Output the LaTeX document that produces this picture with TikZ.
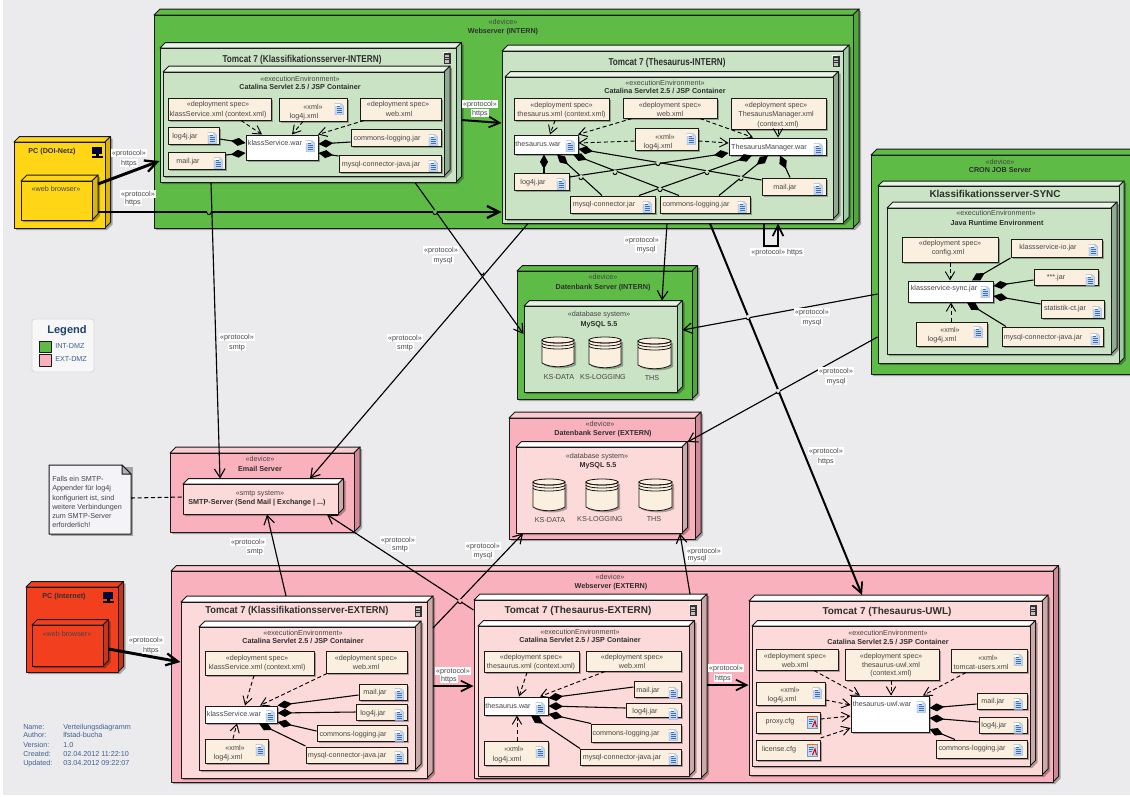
\documentclass[tikz,border=0pt]{standalone}
\usepackage{fontspec}
\usepackage{graphicx}
\setmainfont{Liberation Sans}
\usetikzlibrary{arrows.meta,calc,fit}
\newlength\pxu \setlength\pxu{0.75pt}
\definecolor{pageBg}{HTML}{EBEBED}
\definecolor{txtGrey}{HTML}{454545}
\definecolor{txtDark}{HTML}{2E2E2E}
\definecolor{gD-f}{HTML}{5EBB46}\definecolor{gD-t}{HTML}{5EBB46}\definecolor{gD-s}{HTML}{52A63E}
\definecolor{gT-f}{HTML}{C9E3C4}\definecolor{gT-t}{HTML}{E6F2E4}\definecolor{gT-s}{HTML}{9CCBA4}
\definecolor{gE-f}{HTML}{C9E3C4}\definecolor{gE-t}{HTML}{EAF5E8}\definecolor{gE-s}{HTML}{8FAA90}
\definecolor{pD-f}{HTML}{F9B2BD}\definecolor{pD-t}{HTML}{FBCBD2}\definecolor{pD-s}{HTML}{D08A96}
\definecolor{pT-f}{HTML}{FDDADA}\definecolor{pT-t}{HTML}{FFFFFF}\definecolor{pT-s}{HTML}{CBA9A9}
\definecolor{yD-f}{HTML}{FFD615}\definecolor{yD-t}{HTML}{FFD615}\definecolor{yD-s}{HTML}{D9B30E}
\definecolor{rD-f}{HTML}{F2401F}\definecolor{rD-t}{HTML}{F2401F}\definecolor{rD-s}{HTML}{C8351A}
\definecolor{artFill}{HTML}{FBF0E0}
\definecolor{noteFill}{HTML}{F4F4F8}
\definecolor{metaBlue}{HTML}{3F5F8F}
\definecolor{navy}{HTML}{1F3F70}
\definecolor{iconBlue}{HTML}{3E6FB8}
\definecolor{iconPale}{HTML}{C5D8F2}
\newcounter{tn}
% 3D box: name x1 y1 x2 y2 depth palette
\newcommand{\dbox}[7]{%
  \fill[black,opacity=.3] ({#2+2},{#3+2}) -- ({#2+#6+2},{#3-#6+2}) -- ({#4+#6+2},{#3-#6+2}) -- ({#4+#6+2},{#5-#6+2}) -- ({#4+2},{#5+2}) -- ({#2+2},{#5+2}) -- cycle;
  \draw[boxline,fill=#7-t] (#2,#3) -- ({#2+#6},{#3-#6}) -- ({#4+#6},{#3-#6}) -- (#4,#3) -- cycle;
  \draw[boxline,fill=#7-s] (#4,#3) -- ({#4+#6},{#3-#6}) -- ({#4+#6},{#5-#6}) -- (#4,#5) -- cycle;
  \node[boxline,draw,fill=#7-f,inner sep=0pt,fit={(#2,#3) (#4,#5)}] (#1) {};
  \coordinate (#1-tr) at ({#4+#6},{#3-#6});
}
% flat artefact box
\newcommand{\art}[6][artFill]{%
  \fill[black,opacity=.3] ({#3+2},{#4+2}) rectangle ({#5+2},{#6+2});
  \node[boxline,draw,fill=#1,inner sep=0pt,fit={(#3,#4) (#5,#6)}] (#2) {};
}
\newcommand{\txt}[4][]{\stepcounter{tn}\node[lb,#1] (t\arabic{tn}) at (#2,#3) {#4};}
\newcommand{\btxt}[4][]{\stepcounter{tn}\node[lb,text=txtDark,font=\fontsize{5.4}{6.5}\selectfont\bfseries,#1] (t\arabic{tn}) at (#2,#3) {#4};}
\newcommand{\clbl}[3]{\stepcounter{tn}\node[lb,fill=white,inner xsep=1.2pt,inner ysep=.6pt] (t\arabic{tn}) at (#1,#2) {#3};}
\newcommand{\ttl}[5][7.5]{\stepcounter{tn}\node[lb,text=txtDark,text height=7pt,text depth=1.6pt] (t\arabic{tn}) at (#2,#3) {\resizebox{#4\pxu}{\height}{\fontsize{#1}{9}\selectfont\bfseries #5}};}
% document icon
\newcommand{\docicon}[2]{%
  \fill[iconPale,draw=iconBlue!70,line width=.25pt] ({#1-4},{#2-5.5}) -- ({#1+2},{#2-5.5}) -- ({#1+4.5},{#2-3}) -- ({#1+4.5},{#2+5.5}) -- ({#1-4},{#2+5.5}) -- cycle;
  \fill[white] ({#1-4},{#2-5.5}) rectangle ({#1+1},{#2-3});
  \draw[iconBlue,line width=.7pt] ({#1-2.5},{#2-3}) -- ({#1+1},{#2-3}) ({#1-2.5},{#2-.8}) -- ({#1+3},{#2-.8}) ({#1-2.5},{#2+1.4}) -- ({#1+3},{#2+1.4}) ({#1-2.5},{#2+3.6}) -- ({#1+3},{#2+3.6});
}
\newcommand{\redicon}[2]{%
  \fill[iconPale,draw=iconBlue!70,line width=.25pt] ({#1-5},{#2-6}) rectangle ({#1+5},{#2+6});
  \fill[orange!80!red] ({#1-5},{#2-6.3}) rectangle ({#1+5},{#2-5.2});
  \draw[iconBlue,line width=.6pt] ({#1-3},{#2-3}) -- ({#1+2},{#2-3}) ({#1-3},{#2-.8}) -- ({#1+1},{#2-.8}) ({#1-3},{#2+1.4}) -- ({#1},{#2+1.4});
  \draw[red!85!black,line width=.8pt] ({#1+.5},{#2+5}) -- ({#1+3},{#2-1}) -- ({#1+4.5},{#2+5});
}
\newcommand{\tomcaticon}[2]{%
  \fill[white] ({#1-4.5},{#2-6.5}) rectangle ({#1+1},{#2-4});
  \fill[black!80] ({#1-3.5},{#2-5.5}) rectangle ({#1+3.5},{#2+5.5});
  \fill[black!25] ({#1-1.7},{#2-3.5}) rectangle ({#1+1.7},{#2+4.5});
  \draw[black!80,line width=.4pt] ({#1-1.7},{#2-1}) -- ({#1+1.7},{#2-1}) ({#1-1.7},{#2+1.5}) -- ({#1+1.7},{#2+1.5});
}
\newcommand{\pcicon}[2]{%
  \fill[black] ({#1-5},{#2-5}) rectangle ({#1+5},{#2+2});
  \fill[black!70!blue] ({#1-3.5},{#2-4}) rectangle ({#1+3.5},{#2+1});
  \fill[black] ({#1-1.5},{#2+2}) rectangle ({#1+1.5},{#2+3.5});
  \fill[black] ({#1-5.5},{#2+3.5}) rectangle ({#1+5.5},{#2+5.5});
}
% database cylinder
\newcommand{\cyl}[4]{%
  \begin{scope}[shift={(2,2)}]
  \fill[black,opacity=.3] (#1,{#2+3}) -- (#1,{#4-6}) .. controls ({#1+8},{#4-2}) and ({#3-8},{#4-1}) .. (#3,{#4-6}) -- (#3,{#2+3}) -- cycle;
  \end{scope}
  \draw[cylline,fill=artFill] (#1,{#2+3}) -- (#1,{#4-6}) .. controls ({#1+8},{#4-1}) and ({#3-8},{#4-1}) .. (#3,{#4-6}) -- (#3,{#2+3}) -- cycle;
  \draw[cylline,fill=artFill] ({(#1+#3)/2},{#2+3}) ellipse ({(#3-#1)/2} and 3);
  \draw[cylline] (#1,{#2+3}) arc (180:360:{(#3-#1)/2} and -3);
  \draw[cylline] (#1,{#2+6}) arc (180:360:{(#3-#1)/2} and -3);
  \draw[cylline] (#1,{#2+9}) arc (180:360:{(#3-#1)/2} and -3);
}
\newcommand{\hop}[3]{\fill[#3] (#1,#2) circle (2);\draw[line width=.7pt] ({#1-2},{#2+.6}) arc (180:0:2);}
\tikzset{
  x=0.75pt,y=-0.75pt,
  boxline/.style={line width=.75pt,draw=black!90,line join=round},
  cylline/.style={line width=.6pt,draw=black!90},
  lb/.style={inner sep=0pt,text=txtGrey,font=\fontsize{5.4}{6.5}\selectfont,text height=4pt,text depth=1pt},
  lw/.style={anchor=west},
  conn/.style={line width=.85pt,-{Straight Barb[length=6.5pt,width=8pt,line width=.85pt]}},
  conT/.style={line width=1.5pt,-{Straight Barb[length=8pt,width=8pt,line width=1.3pt]}},
  conX/.style={line width=2.2pt,-{Straight Barb[length=9pt,width=9pt,line width=1.7pt]}},
  dep/.style={line width=.7pt,dash pattern=on 3pt off 2pt,-{Straight Barb[length=6pt,width=7pt,line width=.7pt]}},
  comp/.style={line width=.8pt,{Diamond[length=11pt,width=6pt]}-},
}
\begin{document}
\begin{tikzpicture}
\useasboundingbox (0,0) rectangle (1130,796);
\clip (0,0) rectangle (1130,796);
\fill[pageBg] (3,0) rectangle (1130,795);

%% ---------- Legend ----------
\draw[draw=black!15,fill=black!3,rounded corners=2pt,line width=.7pt] (32,319) rectangle (94,372);
\stepcounter{tn}\node[lb,text=navy,font=\fontsize{8.3}{9}\selectfont\bfseries,text height=6pt,text depth=1.5pt] (legendT) at (67,330) {Legend};
\node[boxline,draw,fill=gD-f,inner sep=0pt,fit={(39,341) (51,352)}] (legG) {};
\node[boxline,draw,fill=pD-f,inner sep=0pt,fit={(39,354) (51,366)}] (legP) {};
\txt[lw,text=metaBlue]{55}{346}{INT-DMZ}
\txt[lw,text=metaBlue]{55}{359}{EXT-DMZ}

%% ---------- Metadata ----------
\txt[lw,text=metaBlue]{23}{727}{Name:}\txt[lw,text=metaBlue]{63}{727}{Verteilungsdiagramm}
\txt[lw,text=metaBlue]{23}{735}{Author:}\txt[lw,text=metaBlue]{63}{735}{lfstad-bucha}
\txt[lw,text=metaBlue]{23}{745}{Version:}\txt[lw,text=metaBlue]{63}{745}{1.0}
\txt[lw,text=metaBlue]{23}{754}{Created:}\txt[lw,text=metaBlue]{63}{754}{02.04.2012 11:22:10}
\txt[lw,text=metaBlue]{23}{763}{Updated:}\txt[lw,text=metaBlue]{63}{763}{03.04.2012 09:22:07}

%% ---------- PC DOI ----------
\dbox{pcA}{14}{142}{105}{228}{5.5}{yD}
\btxt{52}{151}{PC (DOI-Netz)}
\pcicon{97}{152}
\dbox{wbA}{21}{181}{92}{220}{6}{yD}
\txt{56}{189}{«web browser»}

%% ---------- Webserver INTERN ----------
\dbox{wsI}{154}{15}{853}{228}{6}{gD}
\txt{503}{22}{«device»}
\btxt{503}{31}{Webserver (INTERN)}

%% Tomcat KS INTERN
\dbox{tkK}{160}{48}{456}{182}{5.5}{gT}
\ttl{302}{59}{159}{Tomcat 7 (Klassifikationsserver-INTERN)}
\tomcaticon{447}{58}
\dbox{exK}{163}{72}{444}{176}{6}{gE}
\txt{300}{79}{«executionEnvironment»}
\btxt{300}{87}{Catalina Servlet 2.5 / JSP Container}
\art{kaC}{168}{98}{271}{120}
\txt{218}{104}{«deployment spec»}\txt{218}{114}{klassService.xml (context.xml)}
\art{kaX}{279}{98}{347}{121}
\txt{313}{107}{«xml»}\txt{304}{116}{log4j.xml}\docicon{339}{109}
\art{kaW}{360}{98}{441}{120}
\txt{398}{104}{«deployment spec»}\txt{399}{114}{web.xml}
\art{kaL}{168}{127}{219}{144}
\txt{185}{136}{log4j.jar}\docicon{212}{138}
\art{kaM}{168}{152}{225}{169}
\txt{188}{161}{mail.jar}\docicon{218}{163}
\art[white]{kaV}{246}{135}{318}{160}
\txt{275}{143}{klassService.war}\docicon{310}{146}
\art{kaO}{351}{129}{441}{146}
\txt{387}{138}{commons-logging.jar}\docicon{433}{140}
\art{kaS}{339}{155}{441}{172}
\txt{381}{164}{mysql-connector-java.jar}\docicon{433}{166}
\draw[dep] (kaC.south -| 241,0) -- (kaV.north -| 262,0);
\draw[dep] (kaX.south -| 303,0) -- (kaV.north -| 292,0);
\draw[dep] (kaW.south -| 364,0) -- (kaV.north -| 318,0);
\draw[comp] (kaV.west |- 0,143) -- (kaL.east |- 0,139);
\draw[comp] (kaV.west |- 0,153) -- (kaM.east |- 0,155);
\draw[comp] (kaV.east |- 0,144) -- (kaO.west |- 0,142);
\draw[comp] (kaV.east |- 0,153) -- (kaS.west |- 0,156);

%% Tomcat Thesaurus INTERN
\dbox{tkT}{502}{51}{843}{223}{6}{gT}
\ttl{667}{62}{117}{Tomcat 7 (Thesaurus-INTERN)}
\tomcaticon{836}{61}
\dbox{exT}{505}{77}{833}{219}{5.5}{gE}
\txt{665}{83}{«executionEnvironment»}
\btxt{665}{91}{Catalina Servlet 2.5 / JSP Container}
\art{taC}{514}{98}{609}{120}
\txt{561.5}{105}{«deployment spec»}\txt{561.5}{114}{thesaurus.xml (context.xml)}
\art{taW}{623}{98}{717}{118}
\txt{670}{105}{«deployment spec»}\txt{670}{114}{web.xml}
\art{taD}{731}{98}{826}{129}
\txt{776}{105}{«deployment spec»}\txt{776}{114}{ThesaurusManager.xml}\txt{778}{124}{(context.xml)}
\art[white]{taV}{514}{135}{578}{154}
\txt{538}{144}{thesaurus.war}\docicon{570}{146}
\art{taX}{635}{128}{698}{150}
\txt{665}{137}{«xml»}\txt{658}{146}{log4j.xml}\docicon{691}{139}
\art[white]{taB}{729}{138}{826}{155}
\txt{769}{147}{ThesaurusManager.war}\docicon{818}{149}
\art{taL}{514}{173}{569}{190}
\txt{533}{182}{log4j.jar}\docicon{561}{184}
\art{taS}{570}{196}{655}{213}
\txt{604}{204}{mysql-connector.jar}\docicon{647}{207}
\art{taO}{660}{196}{750}{213}
\txt{696}{204}{commons-logging.jar}\docicon{742}{207}
\art{taM}{762}{178}{826}{195}
\txt{785}{187}{mail.jar}\docicon{818}{189}
\draw[dep] (taC.south -| 555,0) -- (taV.north -| 550,0);
\draw[dep] (taW.south -| 632,0) -- (taV.north -| 578,0);
\draw[dep] (taW.south -| 700,0) -- (taB.north -| 753,0);
\draw[dep] (taX.west |- 0,141) -- (taV.east |- 0,143);
\draw[dep] (taX.east |- 0,141) -- (taB.west |- 0,143);
\draw[dep] (taD.south -| 778,0) -- (taB.north -| 778,0);
\draw[comp] (taV.south -| 544,0) -- (taL.north -| 544,0);
\draw[comp] (taV.south -| 557,0) -- (taS.north -| 602,0);
\draw[comp] (taV.south -| 573,0) -- (taO.north -| 679,0);
\draw[comp] (taV.east |- 0,149) -- (taM.west |- 0,180);
\draw[comp] (taB.west |- 0,153) -- (taL.east |- 0,177);
\draw[comp] (taB.south -| 752,0) -- (taS.north -| 639,0);
\draw[comp] (taB.south -| 768,0) -- (taO.north -| 719,0);
\draw[comp] (taB.south -| 780,0) -- (taM.north -| 790,0);
\hop{658}{163}{gE-f}\hop{615}{172}{gE-f}\hop{707}{172}{gE-f}\hop{581}{177}{gE-f}\hop{660}{189}{gE-f}\hop{741}{178}{gE-f}

%% ---------- CRON JOB ----------
\dbox{crn}{871}{155}{1136}{374}{6}{gD}
\txt{1000}{162}{«device»}
\btxt{1000}{170}{CRON JOB Server}
\dbox{tkS}{878}{186}{1119}{363}{5}{gT}
\ttl{995}{194}{131}{Klassifikationsserver-SYNC}
\dbox{exS}{887}{208}{1111}{354}{6}{gE}
\txt{996}{213}{«executionEnvironment»}
\btxt{997}{223}{Java Runtime Environment}
\art{caC}{902}{237}{998}{262}
\txt{950}{243}{«deployment spec»}\txt{948}{252}{config.xml}
\art{caI}{1011}{239}{1102}{257}
\txt{1048}{247}{klassservice-io.jar}\docicon{1093}{250}
\art{caJ}{1034}{269}{1098}{285}
\txt{1056}{277}{***.jar}\docicon{1090}{280}
\art{caT}{1041}{300}{1104}{318}
\txt{1065}{308}{statistik-ct.jar}\docicon{1097}{312}
\art{caS}{1002}{327}{1103}{346}
\txt{1043}{337}{mysql-connector-java.jar}\docicon{1095}{339}
\art{caX}{916}{322}{987}{346}
\txt{950}{330}{«xml»}\txt{942}{339}{log4j.xml}\docicon{978}{332}
\art[white]{caV}{908}{281}{993}{302}
\txt{944}{288}{klassservice-sync.jar}\docicon{985}{292}
\draw[dep] (caC.south -| 950,0) -- (caV.north -| 950,0);
\draw[dep] (caX.north -| 951,0) -- (caV.south -| 951,0);
\draw[comp] (caV.north -| 972,0) -- (caI.west |- 0,258);
\draw[comp] (caV.east |- 0,286) -- (caJ.west |- 0,280);
\draw[comp] (caV.east |- 0,296) -- (caT.west |- 0,304);
\draw[comp] (caV.south -| 967,0) -- (caS.north -| 1006,0);

%% ---------- DB INTERN ----------
\dbox{dbI}{517}{271}{692}{399}{5.5}{gD}
\txt{603}{277}{«device»}
\btxt{603}{287}{Datenbank Server (INTERN)}
\dbox{myI}{524}{306}{677}{392}{5.5}{gT}
\txt{599}{314}{«database system»}
\btxt{599}{324}{MySQL 5.5}
\cyl{542}{337}{574}{369}\cyl{589}{337}{621}{370}\cyl{638}{338}{671}{371}
\txt{559}{377}{KS-DATA}\txt{603}{377}{KS-LOGGING}\txt{652}{378}{THS}

%% ---------- DB EXTERN ----------
\dbox{dbE}{509}{418}{695}{539}{6}{pD}
\txt{600}{424}{«device»}
\btxt{603}{433}{Datenbank Server (EXTERN)}
\dbox{myE}{516}{447}{682}{533}{5.5}{pT}
\txt{597}{456}{«database system»}
\btxt{598}{465}{MySQL 5.5}
\cyl{533}{479}{565}{513}\cyl{586}{479}{618}{513}\cyl{639}{479}{672}{513}
\txt{550}{520}{KS-DATA}\txt{600}{519}{KS-LOGGING}\txt{654}{519}{THS}

%% ---------- Email ----------
\dbox{eml}{170}{453}{354}{532}{6}{pD}
\txt{260}{459}{«device»}
\btxt{260}{469}{Email Server}
\dbox{smt}{183}{484}{338}{514}{5.5}{pT}
\txt{260}{493}{«smtp system»}
\btxt{257}{502}{SMTP-Server (Send Mail | Exchange | ...)}

%% note
\fill[black,opacity=.3] (51,467) rectangle (133,536);
\draw[boxline,fill=noteFill] (49,465) -- (122,465) -- (131,474) -- (131,534) -- (49,534) -- cycle;
\draw[boxline,fill=black!30] (122,465) -- (122,474) -- (131,474) -- cycle;
\coordinate (noteE) at (131,498);
\txt[lw]{52}{479}{Falls ein SMTP-}
\txt[lw]{52}{488}{Appender für log4j}
\txt[lw]{52}{498}{konfiguriert ist, sind}
\txt[lw]{52}{507}{weitere Verbindungen}
\txt[lw]{52}{516}{zum SMTP-Server}
\txt[lw]{52}{525}{erforderlich!}
\draw[line width=.8pt,dash pattern=on 3pt off 2pt] (noteE) -- (smt.west |- 0,497);

%% ---------- PC Internet ----------
\dbox{pcB}{26}{587}{118}{672}{5.5}{rD}
\btxt{64}{596}{PC (Internet)}
\pcicon{108}{597}
\dbox{wbB}{32}{625}{103}{666}{5.5}{rD}
\txt{67}{634}{«web browser»}

%% ---------- Webserver EXTERN ----------
\dbox{wsE}{171}{571}{1053}{782}{5.5}{pD}
\txt{610}{577}{«device»}
\btxt{611}{586}{Webserver (EXTERN)}

%% Tomcat KS EXTERN
\dbox{tkL}{181}{602}{427}{778}{6}{pT}
\ttl{297}{610}{183}{Tomcat 7 (Klassifikationsserver-EXTERN)}
\tomcaticon{418}{611}
\dbox{exL}{199}{627}{415}{770}{6}{pT}
\txt{303}{633}{«executionEnvironment»}
\btxt{303}{641}{Catalina Servlet 2.5 / JSP Container}
\art{laC}{205}{651}{314}{675}
\txt{257}{658}{«deployment spec»}\txt{257}{667}{klassService.xml (context.xml)}
\art{laW}{326}{651}{407}{673}
\txt{366}{658}{«deployment spec»}\txt{366}{667}{web.xml}
\art{laM}{359}{684}{407}{700}
\txt{375}{692}{mail.jar}\docicon{399}{694}
\art{laL}{356}{704}{407}{720}
\txt{373}{713}{log4j.jar}\docicon{399}{715}
\art{laO}{317}{725}{407}{741}
\txt{353}{734}{commons-logging.jar}\docicon{399}{736}
\art{laS}{306}{747}{407}{763}
\txt{347}{755}{mysql-connector-java.jar}\docicon{399}{757}
\art[white]{laV}{205}{706}{277}{723}
\txt{234}{714}{klassService.war}\docicon{270}{716}
\art{laX}{205}{739}{268}{763}
\txt{235}{748}{«xml»}\txt{228}{757}{log4j.xml}\docicon{260}{750}
\draw[dep] (laC.south -| 254,0) -- (laV.north -| 245,0);
\draw[dep] (laW.south -| 327,0) -- (laV.north -| 260,0);
\draw[dep] (laX.north -| 233,0) -- (laV.south -| 237,0);
\draw[comp] (laV.north east) -- (laM.west |- 0,695);
\draw[comp] (laV.east |- 0,713) -- (laL.west |- 0,712);
\draw[comp] (laV.east |- 0,722) -- (laO.west |- 0,731);
\draw[comp] (laV.south -| 259,0) -- (laS.west |- 0,746);

%% Tomcat Thesaurus EXTERN
\dbox{tkE}{474}{600}{701}{778}{6}{pT}
\ttl{578}{610}{147}{Tomcat 7 (Thesaurus-EXTERN)}
\tomcaticon{693}{610}
\dbox{exE}{478}{626}{689}{776}{5.5}{pT}
\txt{580}{632}{«executionEnvironment»}
\btxt{580}{640}{Catalina Servlet 2.5 / JSP Container}
\art{eaC}{484}{651}{579}{672}
\txt{531}{657}{«deployment spec»}\txt{531}{666}{thesaurus.xml (context.xml)}
\art{eaW}{586}{651}{681}{671}
\txt{632}{657}{«deployment spec»}\txt{632}{666}{web.xml}
\art{eaM}{634}{681}{681}{697}
\txt{648}{690}{mail.jar}\docicon{673}{693}
\art{eaL}{626}{703}{681}{717}
\txt{645}{711}{log4j.jar}\docicon{673}{714}
\art{eaO}{591}{724}{681}{742}
\txt{626}{733}{commons-logging.jar}\docicon{673}{735}
\art{eaS}{580}{749}{681}{765}
\txt{622}{757}{mysql-connector-java.jar}\docicon{673}{759}
\art[white]{eaV}{484}{697}{548}{715}
\txt{508}{706}{thesaurus.war}\docicon{540}{708}
\art{eaX}{484}{741}{548}{765}
\txt{514}{749}{«xml»}\txt{507}{759}{log4j.xml}\docicon{540}{752}
\draw[dep] (eaC.south -| 527,0) -- (eaV.north -| 519,0);
\draw[dep] (eaW.south -| 605,0) -- (eaV.north -| 540,0);
\draw[dep] (eaX.north -| 517,0) -- (eaV.south -| 517,0);
\draw[comp] (eaV.east |- 0,698) -- (eaM.west |- 0,687);
\draw[comp] (eaV.east |- 0,706) -- (eaL.west |- 0,708);
\draw[comp] (eaV.east |- 0,714) -- (eaO.north -| 591,0);
\draw[comp] (eaV.south -| 531,0) -- (eaS.north -| 580,0);

%% Tomcat Thesaurus UWL
\dbox{tkU}{749}{601}{1042}{775}{6}{pT}
\ttl{887}{611}{129}{Tomcat 7 (Thesaurus-UWL)}
\tomcaticon{1033}{610}
\dbox{exU}{752}{626}{1030}{766}{5.5}{pT}
\txt{888}{633}{«executionEnvironment»}
\btxt{888}{642}{Catalina Servlet 2.5 / JSP Container}
\art{uaW}{756}{649}{838}{670}
\txt{795}{656}{«deployment spec»}\txt{795}{665}{web.xml}
\art{uaC}{845}{649}{939}{680}
\txt{891}{656}{«deployment spec»}\txt{891}{665}{thesaurus-uwl.xml}\txt{891}{673}{(context.xml)}
\art{uaT}{951}{649}{1027}{672}
\txt{988}{658}{«xml»}\txt{981}{667}{tomcat-users.xml}\docicon{1018}{660}
\art{uaX}{756}{682}{825}{705}
\txt{790}{690}{«xml»}\txt{782}{699}{log4j.xml}\docicon{817}{693}
\art{uaP}{756}{712}{820}{733}
\txt{780}{721}{proxy.cfg}\redicon{812}{722}
\art{uaN}{756}{740}{820}{760}
\txt{779}{749}{license.cfg}\redicon{812}{750}
\art[white]{uaV}{851}{696}{929}{732}
\txt{882}{704}{thesaurus-uwl.war}\docicon{921}{707}
\art{uaM}{977}{693}{1027}{709}
\txt{993}{701}{mail.jar}\docicon{1018}{704}
\art{uaL}{979}{717}{1027}{733}
\txt{994}{725}{log4j.jar}\docicon{1018}{728}
\art{uaO}{936}{740}{1027}{758}
\txt{972}{748}{commons-logging.jar}\docicon{1018}{750}
\draw[dep] (uaW.south -| 814,0) -- (uaV.north -| 860,0);
\draw[dep] (uaC.south -| 891,0) -- (uaV.north -| 891,0);
\draw[dep] (uaT.south -| 966,0) -- (uaV.north -| 923,0);
\draw[dep] (uaX.east |- 0,700) -- (uaV.west |- 0,705);
\draw[dep] (uaP.east |- 0,719) -- (uaV.west |- 0,716);
\draw[dep] (uaN.east |- 0,738) -- (uaV.west |- 0,728);
\draw[comp] (uaV.east |- 0,708) -- (uaM.west |- 0,704);
\draw[comp] (uaV.east |- 0,718) -- (uaL.west |- 0,722);
\draw[comp] (uaV.east |- 0,729) -- (uaO.north -| 955,0);

%% ---------- Device-level connectors ----------
\draw[conX] (wbA-tr |- 0,184) -- (tkK.west |- 0,161);
\draw[conX] (wbA-tr |- 0,212) -- (tkT.west |- 0,212);
\draw[conT] (tkK-tr |- 0,120) -- (tkT.west |- 0,123);
\draw[conn] (tkK.south -| 211,0) -- (smt-tr -| 220,0);
\draw[conn] (tkK.south -| 415,0) -- (myI.west |- 0,334);
\draw[conn] (tkT.south -| 528,0) -- (smt-tr -| 310,0);
\draw[conn] (tkT.south -| 667,0) -- (myI-tr -| 662,0);
\draw[conT] (tkT.south -| 710,0) -- (tkU-tr -| 862,0);
\draw[conT] (tkT.south -| 764,0) -- ++(0,22) -- ++(14,0) -- (tkT.south -| 778,0);
\draw[conn] (tkS.west |- 0,294) -- (myI-tr |- 0,330);
\draw[conn] (tkS.west |- 0,337) -- (myE-tr |- 0,442);
\draw[conn] (tkL-tr -| 286,0) -- (smt.south -| 267,0);
\draw[conn] (tkE.west |- 0,610) -- (smt.south -| 327,0);
\draw[conn] (tkL-tr |- 0,628) -- (myE.south -| 523,0);
\draw[conn] (tkE-tr -| 690,0) -- (myE.south -| 680,0);
\draw[conT] (tkL-tr |- 0,686) -- (tkE.west |- 0,686);
\draw[conT] (tkE-tr |- 0,685) -- (tkU.west |- 0,685);
\draw[conX] (wbB-tr |- 0,649) -- (tkL.west |- 0,662);

\hop{209}{212}{gD-f}\hop{435}{212}{gD-f}\hop{482}{272}{pageBg}\hop{460}{601}{pD-f}
\hop{748}{317}{pageBg}\hop{778}{391}{pageBg}

%% ---------- Connector labels ----------
\clbl{129}{153}{«protocol»}\clbl{129}{163}{https}
\clbl{138}{194}{«protocol»}\clbl{133}{202}{https}
\clbl{480}{104}{«protocol»}\clbl{480}{113}{https}
\clbl{237}{337}{«protocol»}\clbl{237}{347}{smtp}
\clbl{441}{250}{«protocol»}\clbl{443}{260}{mysql}
\clbl{405}{338}{«protocol»}\clbl{405}{347}{smtp}
\clbl{642}{240}{«protocol»}\clbl{646}{249}{mysql}
\clbl{826}{451}{«protocol»}\clbl{826}{461}{https}
\clbl{777}{252}{«protocol» https}
\clbl{812}{312}{«protocol»}\clbl{812}{322}{mysql}
\clbl{836}{371}{«protocol»}\clbl{836}{381}{mysql}
\clbl{146}{640}{«protocol»}\clbl{151}{650}{https}
\clbl{248}{542}{«protocol»}\clbl{255}{551}{smtp}
\clbl{398}{540}{«protocol»}\clbl{400}{548}{smtp}
\clbl{483}{546}{«protocol»}\clbl{483}{555}{mysql}
\clbl{704}{551}{«protocol»}\clbl{697}{558}{mysql}
\clbl{453}{671}{«protocol»}\clbl{449}{679}{https}
\clbl{726}{668}{«protocol»}\clbl{723}{678}{https}
\end{tikzpicture}
\end{document}
